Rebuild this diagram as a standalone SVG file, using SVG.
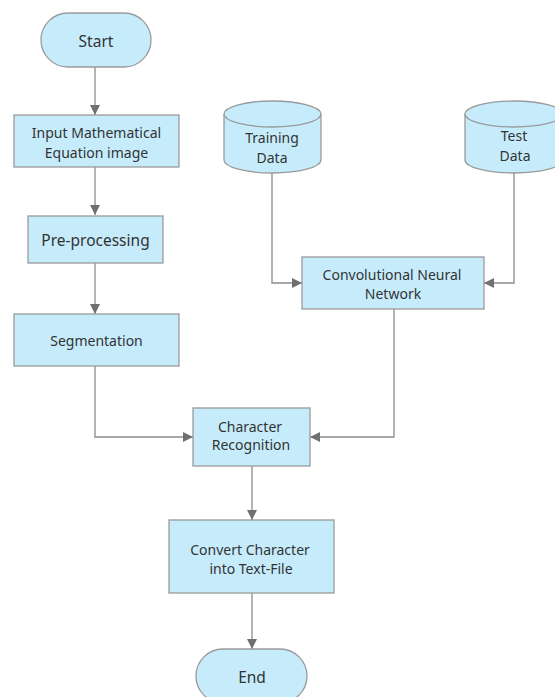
<svg xmlns="http://www.w3.org/2000/svg" width="555" height="697" viewBox="0 0 555 697">
<style>
.n{fill:#c6ecfc;stroke:#9a9a9a;stroke-width:1.3}
.t{font-family:"Noto Sans","Open Sans","Liberation Sans",sans-serif;font-size:14px;fill:#333;text-anchor:middle;dominant-baseline:central}
.b{font-size:15.5px}
.c{fill:none;stroke:#8c8c8c;stroke-width:1.3}
</style>
<defs>
<marker id="a" viewBox="0 0 10 10" refX="10" refY="5" markerWidth="10" markerHeight="11" markerUnits="userSpaceOnUse" orient="auto">
<path d="M0,0 L10,5 L0,10 z" fill="#707070"/>
</marker>
</defs>
<rect width="555" height="697" fill="#fff"/>
<g id="connectors">
<path class="c" d="M95,67 V115" marker-end="url(#a)"/>
<path class="c" d="M95,167 V215" marker-end="url(#a)"/>
<path class="c" d="M95,263 V314" marker-end="url(#a)"/>
<path class="c" d="M95,366 V437 H193" marker-end="url(#a)"/>
<path class="c" d="M272,173 V283 H302" marker-end="url(#a)"/>
<path class="c" d="M514,173 V283 H484" marker-end="url(#a)"/>
<path class="c" d="M394,309 V437 H310" marker-end="url(#a)"/>
<path class="c" d="M252,466 V520" marker-end="url(#a)"/>
<path class="c" d="M252,593 V649" marker-end="url(#a)"/>
</g>
<g id="start">
<rect class="n" x="41" y="13" width="110" height="54" rx="27"/>
<text class="t b" x="96" y="41">Start</text>
</g>
<g id="input">
<rect class="n" x="14" y="115" width="165" height="52"/>
<text class="t" x="96.5" y="132">Input Mathematical</text>
<text class="t" x="96.5" y="152">Equation image</text>
</g>
<g id="preprocessing">
<rect class="n" x="28" y="216" width="135" height="47"/>
<text class="t b" x="95.5" y="240">Pre-processing</text>
</g>
<g id="segmentation">
<rect class="n" x="14" y="314" width="165" height="52"/>
<text class="t" x="96.5" y="340">Segmentation</text>
</g>
<g id="training">
<path class="n" d="M224,114 V160 A48.5,13 0 0 0 321,160 V114 A48.5,13 0 0 0 224,114 Z"/>
<path class="n" d="M224,114 A48.5,13 0 0 0 321,114" fill="none"/>
<text class="t" x="272" y="137">Training</text>
<text class="t" x="272" y="157">Data</text>
</g>
<g id="test">
<path class="n" d="M465,114 V160 A49,13 0 0 0 563,160 V114 A49,13 0 0 0 465,114 Z"/>
<path class="n" d="M465,114 A49,13 0 0 0 563,114" fill="none"/>
<text class="t" x="514" y="135">Test</text>
<text class="t" x="515" y="155">Data</text>
</g>
<g id="cnn">
<rect class="n" x="302" y="257" width="182" height="52"/>
<text class="t" x="392" y="274">Convolutional Neural</text>
<text class="t" x="393" y="293">Network</text>
</g>
<g id="recognition">
<rect class="n" x="193" y="408" width="117" height="58"/>
<text class="t" x="250" y="426">Character</text>
<text class="t" x="251" y="444">Recognition</text>
</g>
<g id="convert">
<rect class="n" x="169" y="520" width="165" height="73"/>
<text class="t" x="250" y="549">Convert Character</text>
<text class="t" x="251" y="568">into Text-File</text>
</g>
<g id="end">
<rect class="n" x="196" y="649" width="111" height="54" rx="27"/>
<text class="t b" x="252" y="677">End</text>
</g>
</svg>
